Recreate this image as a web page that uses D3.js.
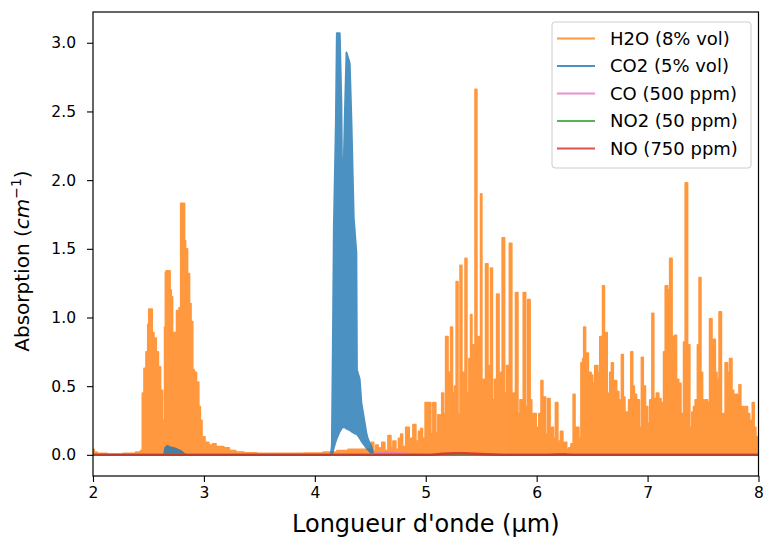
<!DOCTYPE html>
<html><head><meta charset="utf-8">
<script src="https://cdn.jsdelivr.net/npm/d3@7/dist/d3.min.js"></script>
<style>
body{margin:0;background:#fff}
text{font-family:"DejaVu Sans",sans-serif;fill:#000}
</style>
</head><body>
<svg id="chart" width="763" height="541"></svg>
<script>
// ---------- DATA ----------
const xTickValues = [2, 3, 4, 5, 6, 7, 8];
const yTickValues = [0, 0.5, 1.0, 1.5, 2.0, 2.5, 3.0];
const seriesNames = ["H2O (8% vol)", "CO2 (5% vol)", "CO (500 ppm)", "NO2 (50 ppm)", "NO (750 ppm)"];
const seriesColors = ["#ff7f0e", "#1f77b4", "#e377c2", "#2ca02c", "#d62728"];

// H2O : [wavelength µm, absorption cm-1] (outline of the dense spectrum)
const h2oSpectrum = [
[2.00,0.04],[2.02,0.02],[2.05,0.01],[2.20,0.005],[2.35,0.01],[2.42,0.02],[2.438,0.03],
[2.453,0.45],[2.468,0.63],[2.489,0.75],[2.500,0.95],[2.507,1.06],[2.528,1.06],[2.538,0.89],[2.559,0.85],[2.580,0.75],[2.598,0.64],[2.619,0.47],[2.633,0.25],[2.643,0.22],
[2.649,0.93],[2.658,1.33],[2.664,1.34],[2.688,1.34],[2.700,1.20],[2.709,1.15],[2.724,0.86],[2.739,0.89],[2.769,1.05],[2.784,1.07],[2.799,1.83],[2.820,1.83],[2.829,1.56],[2.838,1.50],[2.865,1.32],[2.874,1.10],[2.892,0.97],[2.905,0.62],[2.919,0.60],[2.946,0.53],[2.960,0.35],[2.973,0.25],[2.991,0.13],[3.027,0.09],[3.06,0.07],[3.10,0.08],[3.117,0.06],[3.15,0.06],[3.207,0.05],[3.25,0.03],[3.324,0.02],[3.40,0.015],[3.55,0.01],[3.80,0.01],[4.00,0.012],[4.15,0.02],[4.25,0.03],[4.35,0.04],[4.45,0.04],
[4.50,0.04],[4.52,0.09],[4.54,0.03],[4.56,0.07],[4.58,0.03],[4.59,0.05],[4.62,0.09],[4.64,0.03],[4.68,0.14],[4.69,0.05],[4.72,0.10],[4.74,0.04],[4.77,0.12],[4.78,0.15],[4.80,0.06],[4.84,0.20],[4.86,0.05],[4.87,0.12],[4.90,0.22],[4.92,0.10],[4.95,0.17],[4.96,0.19],[4.98,0.12],[5.01,0.38],[5.04,0.38],[5.05,0.15],[5.08,0.38],[5.10,0.16],[5.12,0.29],[5.14,0.25],[5.15,0.45],[5.17,0.30],[5.19,0.86],[5.21,0.60],[5.22,0.25],[5.23,0.93],[5.25,0.45],[5.27,0.50],[5.28,1.26],[5.30,0.30],[5.32,1.38],[5.33,0.35],[5.35,0.60],[5.36,1.43],[5.38,0.45],[5.40,0.70],[5.41,1.02],[5.42,0.74],[5.44,0.80],[5.45,2.66],[5.47,0.86],[5.49,0.70],[5.50,1.90],[5.51,0.40],[5.53,0.55],[5.55,1.39],[5.57,0.50],[5.58,0.65],[5.59,1.36],[5.61,0.40],[5.63,0.55],[5.65,1.17],[5.67,0.35],[5.68,0.60],[5.70,1.58],[5.72,0.45],[5.74,0.65],[5.77,1.54],[5.78,0.25],[5.80,0.45],[5.82,1.18],[5.84,0.30],[5.86,0.40],[5.87,0.20],[5.89,1.18],[5.91,0.35],[5.93,1.13],[5.95,0.40],[5.96,0.25],[5.98,0.30],[6.01,0.20],[6.03,0.30],[6.05,0.54],[6.06,0.25],[6.07,0.42],[6.09,0.15],[6.11,0.41],[6.13,0.15],[6.14,0.20],[6.16,0.12],[6.18,0.38],[6.20,0.10],[6.23,0.17],[6.24,0.07],[6.26,0.09],[6.28,0.04],[6.30,0.05],[6.32,0.08],[6.34,0.44],[6.35,0.15],[6.37,0.20],[6.39,0.12],[6.41,0.67],[6.42,0.70],[6.43,0.93],[6.45,0.74],[6.48,0.60],[6.50,0.58],[6.51,0.52],[6.54,0.65],[6.56,0.60],[6.58,0.86],[6.59,0.80],[6.60,1.23],[6.62,0.70],[6.63,0.89],[6.64,0.45],[6.65,0.35],[6.67,0.60],[6.68,0.67],[6.70,0.50],[6.71,0.54],[6.73,0.46],[6.75,0.17],[6.76,0.40],[6.77,0.73],[6.79,0.42],[6.80,0.30],[6.82,0.31],[6.84,0.40],[6.86,0.75],[6.87,0.50],[6.89,0.44],[6.91,0.40],[6.94,0.20],[6.95,0.71],[6.97,0.50],[6.99,0.35],[7.01,0.23],[7.03,0.40],[7.05,1.03],[7.06,0.35],[7.07,0.41],[7.09,0.45],[7.11,0.41],[7.13,0.35],[7.14,0.38],[7.15,0.75],[7.17,1.23],[7.19,1.20],[7.21,1.43],[7.23,0.86],[7.24,0.40],[7.25,0.87],[7.27,0.55],[7.29,0.52],[7.31,0.30],[7.32,0.18],[7.33,0.82],[7.35,1.98],[7.37,0.80],[7.39,0.20],[7.41,0.31],[7.42,0.35],[7.44,0.40],[7.46,0.80],[7.47,1.29],[7.49,0.60],[7.50,0.40],[7.51,0.09],[7.53,0.40],[7.55,0.38],[7.57,0.99],[7.59,0.80],[7.60,0.84],[7.62,0.60],[7.63,0.55],[7.66,1.04],[7.67,0.30],[7.68,0.09],[7.69,0.30],[7.71,0.67],[7.73,0.60],[7.75,0.70],[7.77,0.47],[7.78,0.40],[7.80,0.44],[7.82,0.40],[7.83,0.51],[7.85,0.30],[7.86,0.35],[7.87,0.33],[7.89,0.35],[7.91,0.30],[7.93,0.18],[7.94,0.25],[7.95,0.38],[7.97,0.20],[7.98,0.13],[8.00,0.10]
];

// CO2 : [wavelength, lower envelope, upper envelope]
const co2Spectrum = [
[2.00,0,0],[2.64,0,0],[2.65,0,0.05],[2.67,0,0.065],[2.70,0,0.055],[2.73,0,0.05],[2.76,0,0.04],[2.79,0,0.03],[2.82,0,0.01],[2.84,0,0],
[4.144,0,0],[4.153,0.005,0.07],[4.162,0.02,0.80],[4.171,0.05,1.66],[4.189,0.10,2.41],[4.198,0.12,3.07],[4.225,0.17,3.07],[4.240,0.19,2.56],[4.249,0.20,1.73],[4.270,0.20,2.48],[4.285,0.19,2.93],[4.315,0.18,2.85],[4.330,0.17,2.45],[4.351,0.16,1.73],[4.375,0.15,1.47],[4.380,0.15,0.62],[4.405,0.12,0.55],[4.420,0.10,0.38],[4.465,0.05,0.16],[4.477,0.04,0.12],[4.510,0.01,0.06],[4.53,0,0],[8.00,0,0]
];

// CO, NO2, NO : [wavelength, absorption]
const coSpectrum  = [[2.00,0],[4.50,0],[4.56,0.012],[4.65,0.016],[4.74,0.012],[4.85,0.006],[4.95,0],[8.00,0]];
const no2Spectrum = [[2.00,0],[6.10,0],[6.18,0.004],[6.26,0.004],[6.32,0],[8.00,0]];
const noSpectrum  = [[2.00,0],[5.05,0],[5.15,0.008],[5.25,0.012],[5.35,0.012],[5.45,0.008],[5.60,0.003],[5.70,0],[8.00,0]];

// ---------- CHART ----------
const svg = d3.select("#chart");
const W = 763, H = 541;
const plot = {left: 93, right: 758.5, top: 12, bottom: 476};
const x = d3.scaleLinear().domain([2, 8]).range([plot.left, plot.right]);
const y = d3.scaleLinear().domain([-0.154, 3.224]).range([plot.bottom, plot.top]);

svg.append("rect").attr("width", W).attr("height", H).attr("fill", "#fff");
svg.append("defs").append("clipPath").attr("id", "clip")
  .append("rect").attr("x", plot.left).attr("y", plot.top)
  .attr("width", plot.right - plot.left).attr("height", plot.bottom - plot.top);

const data = svg.append("g").attr("clip-path", "url(#clip)");

// H2O
const gH2O = data.append("g").attr("opacity", 0.8);
gH2O.append("path").datum(h2oSpectrum)
  .attr("d", d3.area().curve(d3.curveStep).x(d => x(d[0])).y0(y(0)).y1(d => y(d[1])))
  .attr("fill", seriesColors[0]);
gH2O.append("path").datum(h2oSpectrum)
  .attr("d", d3.line().curve(d3.curveStep).x(d => x(d[0])).y(d => y(d[1])))
  .attr("fill", "none").attr("stroke", seriesColors[0]).attr("stroke-width", 1.8).attr("stroke-linejoin", "round");

// CO2
const gCO2 = data.append("g").attr("opacity", 0.8);
gCO2.append("path").datum(co2Spectrum)
  .attr("d", d3.area().x(d => x(d[0])).y0(d => y(d[1])).y1(d => y(d[2])))
  .attr("fill", seriesColors[1]).attr("stroke", seriesColors[1]).attr("stroke-width", 1.8).attr("stroke-linejoin", "round");

// CO, NO2, NO
[[coSpectrum, 2], [no2Spectrum, 3], [noSpectrum, 4]].forEach(([s, i]) => {
  data.append("path").datum(s)
    .attr("d", d3.line().x(d => x(d[0])).y(d => y(d[1])))
    .attr("fill", "none").attr("stroke", seriesColors[i]).attr("stroke-width", 2.4)
    .attr("opacity", 0.8);
});

// Axes
const xAxis = svg.append("g").attr("transform", `translate(0,${plot.bottom})`)
  .call(d3.axisBottom(x).tickValues(xTickValues).tickFormat(d3.format("d")).tickSize(6).tickPadding(5));
const yAxis = svg.append("g").attr("transform", `translate(${plot.left},0)`)
  .call(d3.axisLeft(y).tickValues(yTickValues).tickFormat(d3.format(".1f")).tickSize(6).tickPadding(11));
[xAxis, yAxis].forEach(a => {
  a.select(".domain").remove();
  a.selectAll("line").attr("stroke", "#000").attr("stroke-width", 1.1);
  a.selectAll("text").attr("font-family", "DejaVu Sans").attr("font-size", 15.5).attr("fill", "#000");
});

// Frame (spines)
svg.append("rect").attr("x", plot.left).attr("y", plot.top)
  .attr("width", plot.right - plot.left).attr("height", plot.bottom - plot.top)
  .attr("fill", "none").attr("stroke", "#000").attr("stroke-width", 1.2);

// Axis labels
svg.append("text").attr("x", (plot.left + plot.right) / 2).attr("y", 532)
  .attr("text-anchor", "middle").attr("font-size", 24).text("Longueur d'onde (µm)");
const yl = svg.append("text").attr("text-anchor", "middle").attr("font-size", 20)
  .attr("transform", "translate(29,261) rotate(-90)");
yl.append("tspan").text("Absorption (");
yl.append("tspan").attr("font-style", "italic").text("cm");
yl.append("tspan").attr("font-size", 14).attr("dy", -8).text("−1");
yl.append("tspan").attr("dy", 8).text(")");

// Legend
const lg = svg.append("g");
lg.append("rect").attr("x", 552).attr("y", 22).attr("width", 199).attr("height", 146)
  .attr("rx", 3).attr("fill", "#fff").attr("fill-opacity", 0.8)
  .attr("stroke", "#cccccc").attr("stroke-width", 1);
const rowY = d3.scaleLinear().domain([0, 4]).range([38.5, 148.5]);
seriesNames.forEach((name, i) => {
  lg.append("line").attr("x1", 557).attr("x2", 595).attr("y1", rowY(i)).attr("y2", rowY(i))
    .attr("stroke", seriesColors[i]).attr("stroke-width", 2.2).attr("opacity", 0.8);
  lg.append("text").attr("x", 610).attr("y", rowY(i)).attr("dy", "0.36em")
    .attr("font-size", 18).text(name);
});
</script>
</body></html>
